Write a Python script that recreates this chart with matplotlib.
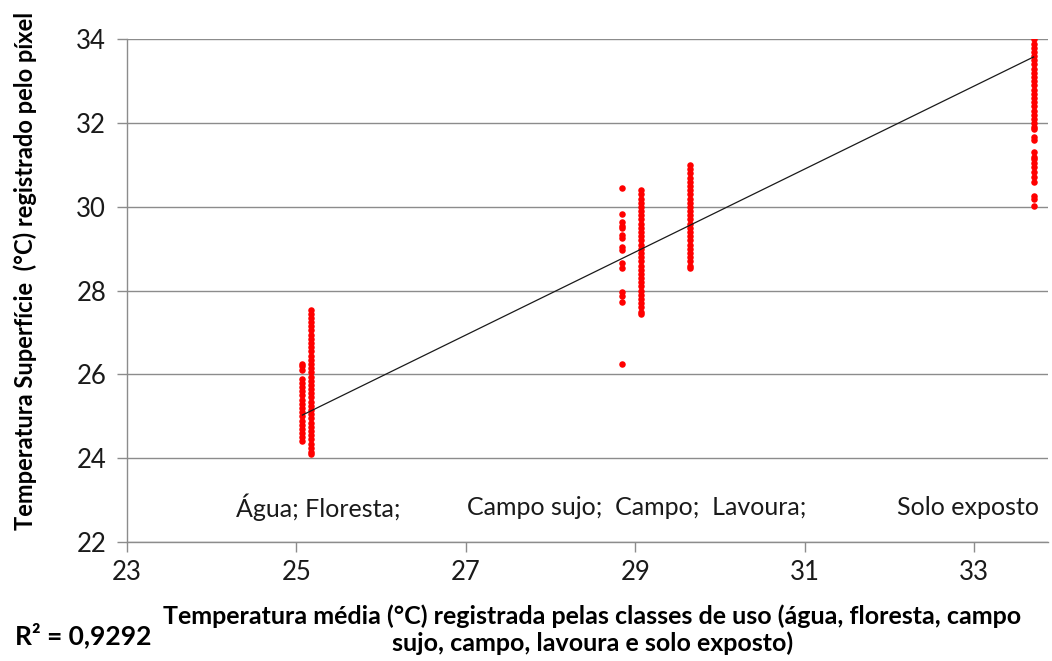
import numpy as np
import matplotlib.pyplot as plt

plt.rcParams['font.family'] = ['Lato', 'DejaVu Sans']

# mean temperature of each land-use class (x) and pixel temperatures (y)
class_x = [25.07, 25.17, 28.84, 29.07, 29.64, 33.70]

agua = [26.25, 26.2, 26.1, 25.9, 25.8, 25.7, 25.6, 25.5, 25.4, 25.3, 25.2, 25.1,
        25.0, 24.9, 24.8, 24.7, 24.6, 24.5, 24.4]
floresta = [27.55, 27.45, 27.35, 27.25, 27.15, 27.05, 26.95, 26.85, 26.75, 26.65,
            26.55, 26.45, 26.35, 26.25, 26.15, 26.05, 25.95, 25.85, 25.75, 25.65,
            25.55, 25.45, 25.35, 25.25, 25.15, 25.05, 24.95, 24.85, 24.75, 24.65,
            24.55, 24.45, 24.35, 24.25, 24.15, 24.1]
campo_sujo = [30.46, 29.84, 29.64, 29.54, 29.49, 29.33, 29.25, 29.05, 28.97,
              28.65, 28.53, 27.97, 27.87, 27.74, 26.26]
campo = [30.4, 30.3, 30.2, 30.1, 30.0, 29.9, 29.8, 29.7, 29.6, 29.5, 29.4, 29.3,
         29.2, 29.1, 29.0, 28.9, 28.8, 28.7, 28.6, 28.5, 28.4, 28.3, 28.2, 28.1,
         28.0, 27.9, 27.8, 27.7, 27.6, 27.5, 27.45]
lavoura = [31.0, 30.9, 30.8, 30.7, 30.6, 30.5, 30.4, 30.3, 30.2, 30.1, 30.0, 29.9,
           29.8, 29.7, 29.6, 29.5, 29.4, 29.3, 29.2, 29.1, 29.0, 28.9, 28.8, 28.7,
           28.6, 28.55]
solo = [34.0, 33.9, 33.8, 33.7, 33.6, 33.5, 33.4, 33.3, 33.2, 33.1, 33.0, 32.9,
        32.8, 32.7, 32.6, 32.5, 32.4, 32.3, 32.2, 32.1, 32.0, 31.9, 31.85, 31.67,
        31.6, 31.3, 31.2, 31.15, 31.05, 30.96, 30.84, 30.72, 30.6, 30.26, 30.2, 30.03]
groups = [agua, floresta, campo_sujo, campo, lavoura, solo]

# linear trend line (Excel)
trend_x = [25.07, 33.70]
trend_y = [25.03, 33.58]
r2_text = 'R² = 0,9292'

class_labels = ['Água; Floresta;', 'Campo sujo;  Campo;  Lavoura;', 'Solo exposto']
label_x = [24.29, 27.01, 32.09]
label_y = 22.83

fig = plt.figure(figsize=(10.52, 6.61), dpi=100)
ax = fig.add_axes([0.1207, 0.18, 0.8755, 0.7605])

for xv, ys in zip(class_x, groups):
    ax.scatter([xv] * len(ys), ys, s=22, color='#ff0000', linewidths=0, zorder=3)

ax.plot(trend_x, trend_y, color='#1a1a1a', linewidth=0.9, zorder=4)

for lx, txt in zip(label_x, class_labels):
    ax.text(lx, label_y, txt, fontsize=18, color='#1a1a1a', va='center', ha='left')

ax.set_xlim(23, 33.87)
ax.set_ylim(22, 34)
ax.set_xticks([23, 25, 27, 29, 31, 33])
ax.set_yticks([22, 24, 26, 28, 30, 32, 34])
ax.grid(axis='y', color='#8c8c8c', linewidth=1)
ax.set_axisbelow(True)
for s in ['top', 'right']:
    ax.spines[s].set_visible(False)
for s in ['left', 'bottom']:
    ax.spines[s].set_color('#8c8c8c')
    ax.spines[s].set_linewidth(1)
ax.tick_params(axis='both', colors='#8c8c8c', length=7, width=1, labelsize=18.5,
               labelcolor='#1a1a1a')
ax.tick_params(axis='y', pad=8)
ax.tick_params(axis='x', pad=6)

fig.text(0.024, 0.59, 'Temperatura Superfície  (°C) registrado pelo píxel', rotation=90,
         fontsize=17, fontweight='bold', ha='center', va='center')
fig.text(0.563, 0.047, 'Temperatura média (°C) registrada pelas classes de uso (água, floresta, campo\nsujo, campo, lavoura e solo exposto)',
         fontsize=18, fontweight='bold', ha='center', va='center', linespacing=1.2)
fig.text(0.014, 0.039, r2_text, fontsize=19, fontweight='bold', ha='left', va='center')

fig.savefig('out.png', dpi=100)
